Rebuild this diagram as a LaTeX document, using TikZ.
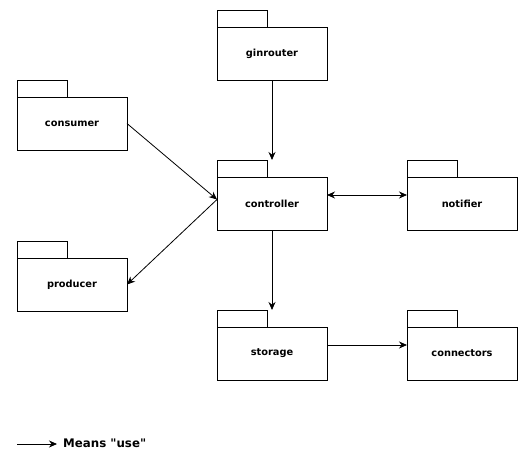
\documentclass[tikz,border=0pt]{standalone}
\usepackage{fontspec}
\setmainfont{DejaVu Sans}[Ligatures=TeXOff]
\usetikzlibrary{arrows.meta}
\tikzset{
  pkgbody/.style={draw=black, line width=0.8pt, fill=white, minimum width=110pt, minimum height=53pt, inner sep=0pt, outer sep=0pt, font=\bfseries\fontsize{9.8}{12}\selectfont},
  pkgtab/.style={draw=black, line width=0.8pt, fill=white, minimum width=50pt, minimum height=17pt, inner sep=0pt, outer sep=0pt, anchor=south west},
  uses/.style={draw=black, line width=0.8pt, -{Stealth[length=8pt,width=7pt]}},
  bothuses/.style={draw=black, line width=0.8pt, {Stealth[length=8pt,width=7pt]}-{Stealth[length=8pt,width=7pt]}}
}
\begin{document}
\begin{tikzpicture}[x=1pt,y=-1pt]
\useasboundingbox (0,0) rectangle (528,471);
% packages
\node[pkgbody] (ginrouter) at (272,53.5) {ginrouter};
\node[pkgtab] (ginroutertab) at (ginrouter.north west) {};
\node[pkgbody] (consumer) at (72,123.5) {consumer};
\node[pkgtab] (consumertab) at (consumer.north west) {};
\node[pkgbody] (controller) at (272,203.5) {controller};
\node[pkgtab] (controllertab) at (controller.north west) {};
\node[pkgbody] (notifier) at (462,203.5) {notifier};
\node[pkgtab] (notifiertab) at (notifier.north west) {};
\node[pkgbody] (producer) at (72,284.5) {producer};
\node[pkgtab] (producertab) at (producer.north west) {};
\node[pkgbody] (storage) at (272,353.5) {storage};
\node[pkgtab] (storagetab) at (storage.north west) {};
\node[pkgbody] (connectors) at (462,353.5) {connectors};
\node[pkgtab] (connectorstab) at (connectors.north west) {};
% connectors
\draw[uses] (ginrouter.south) -- (ginrouter.south |- controllertab.north);
\draw[uses] (consumer.east) -- ([yshift=4pt]controller.west);
\draw[uses] ([yshift=4pt]controller.west) -- (producer.east);
\draw[bothuses] ([yshift=8.5pt]controller.east) -- ([yshift=8.5pt]notifier.west);
\draw[uses] (controller.south) -- (controller.south |- storagetab.north);
\draw[uses] ([yshift=8.5pt]storage.east) -- ([yshift=8.5pt]connectors.west);
% legend
\coordinate (legfrom) at (17,444);
\coordinate (legto) at (57,444);
\node[anchor=west, inner sep=0pt, font=\bfseries\fontsize{11.8}{14}\selectfont] (legend) at (63,443) {Means "use"};
\draw[uses] (legfrom) -- (legto);
\end{tikzpicture}
\end{document}
